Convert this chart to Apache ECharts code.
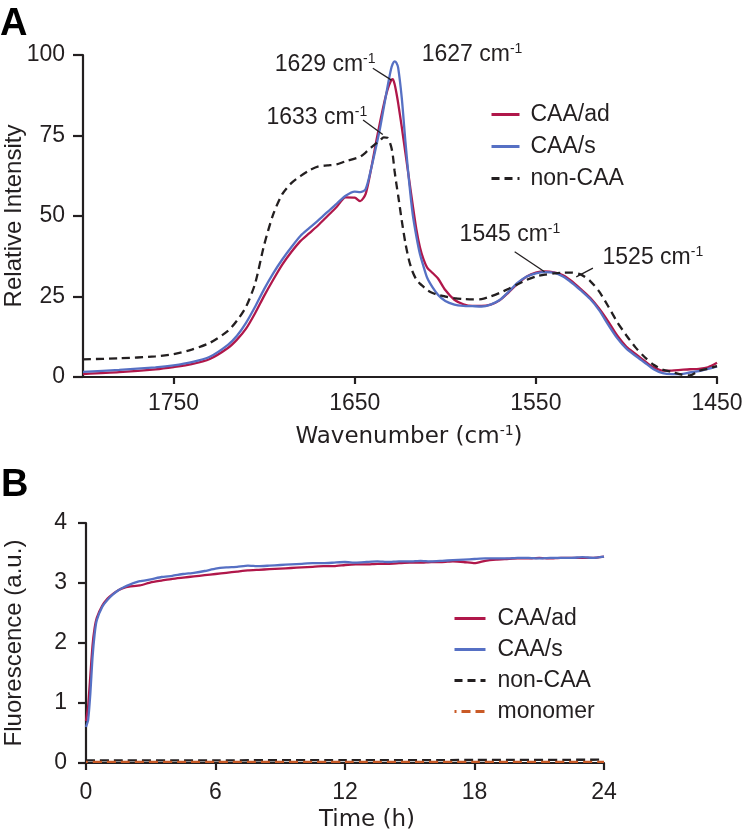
<!DOCTYPE html>
<html>
<head>
<meta charset="utf-8">
<script src="https://cdn.jsdelivr.net/npm/echarts@6/dist/echarts.min.js"></script>
<style>html,body{margin:0;padding:0;background:#fff}#c{width:744px;height:840px}</style>
</head>
<body>
<div id="c"></div>
<script>
// ---------- Panel A data (FTIR spectra) ----------
const wavenumber = [1800,1780,1760,1750,1740,1730,1720,1715,1710,1705,1700,1695,1690,1685,1680,1675,1670,1665,1660,1655,1650,1647,1644,1641,1638,1636,1634,1632,1630,1629,1628,1627,1626,1624,1622,1620,1618,1616,1614,1612,1610,1607,1604,1600,1595,1590,1585,1580,1575,1570,1565,1560,1555,1550,1545,1540,1535,1530,1525,1520,1515,1510,1505,1500,1495,1490,1485,1480,1475,1470,1465,1460,1455,1450];
const intensityCAAad = [0.9,1.5,2.4,3.1,4.0,5.6,9.0,11.6,15.0,19.8,25.2,30.2,34.9,38.8,42.2,44.7,47.2,50.0,52.8,55.8,55.7,54.6,56.8,64.5,73.5,79.2,84.5,89.0,92.0,92.5,91.0,88.3,85.0,77.5,69.5,61.5,53.5,46.0,40.3,36.5,34.0,32.3,30.6,27.0,24.0,22.6,22.1,22.1,22.5,23.8,26.3,29.0,31.2,32.4,32.8,32.5,31.6,29.7,27.2,24.6,21.2,17.2,12.8,9.4,7.2,5.0,3.0,2.0,2.0,2.2,2.4,2.5,3.0,4.4];
const intensityCAAs = [1.6,2.2,3.0,3.6,4.6,6.3,10.0,12.8,16.8,21.8,27.3,32.2,36.5,40.3,43.8,46.3,48.7,51.3,53.8,56.3,57.6,57.4,58.3,64.5,72.0,77.3,83.5,89.8,95.5,97.3,98.0,97.6,96.0,86.5,73.0,60.8,50.6,43.8,38.2,34.3,30.8,27.8,25.5,23.6,22.5,22.1,22.0,21.9,22.5,23.9,26.5,29.3,31.2,32.2,32.6,32.4,31.2,29.2,26.8,24.2,20.7,16.2,12.0,8.8,6.6,4.5,2.4,1.2,0.9,0.9,1.4,1.8,2.5,3.3];
const intensityNonCAA = [5.5,5.8,6.4,7.1,8.5,10.6,14.3,17.5,21.8,29.0,41.0,50.5,56.8,60.2,62.4,64.2,65.4,65.7,66.0,67.0,67.8,68.4,69.7,71.2,72.6,73.5,74.4,74.3,71.8,69.0,64.0,60.0,56.3,48.5,41.5,36.2,32.6,30.3,29.0,28.0,27.0,26.1,25.5,25.0,24.5,24.2,24.1,24.2,25.0,26.1,27.4,28.8,30.2,31.2,31.8,32.2,32.4,32.4,31.8,29.8,26.5,21.9,17.0,12.9,9.2,6.2,3.8,2.3,1.6,0.8,0.5,1.9,2.6,3.4];
const wavenumberTicks = [1750,1650,1550,1450];
const peakNames = ['1629','1627','1633','1545','1525'];

// ---------- Panel B data (fluorescence kinetics) ----------
const timeH = [0,0.1,0.2,0.3,0.4,0.5,0.75,1,1.25,1.5,1.75,2,2.5,3,3.5,4,4.5,5,5.5,6,6.5,7,7.5,8,8.5,9,9.5,10,10.5,11,11.5,12,12.5,13,13.5,14,14.5,15,15.5,16,16.5,17,17.5,18,18.5,19,19.5,20,20.5,21,21.5,22,22.5,23,23.5,24];
const fluorCAAad = [0.70,0.95,1.45,1.95,2.25,2.42,2.62,2.74,2.82,2.88,2.92,2.94,2.96,3.01,3.04,3.07,3.09,3.11,3.13,3.15,3.17,3.19,3.21,3.22,3.23,3.24,3.25,3.26,3.27,3.28,3.28,3.30,3.31,3.31,3.32,3.32,3.33,3.34,3.34,3.35,3.35,3.36,3.35,3.33,3.37,3.39,3.40,3.41,3.41,3.42,3.41,3.42,3.42,3.42,3.42,3.44];
const fluorCAAs = [0.60,0.72,1.15,1.75,2.15,2.38,2.60,2.72,2.81,2.88,2.93,2.97,3.03,3.06,3.10,3.12,3.15,3.17,3.20,3.24,3.26,3.27,3.29,3.28,3.29,3.30,3.31,3.32,3.33,3.33,3.34,3.35,3.34,3.35,3.36,3.35,3.36,3.36,3.37,3.36,3.37,3.38,3.39,3.40,3.41,3.41,3.41,3.42,3.42,3.41,3.42,3.42,3.42,3.43,3.42,3.44];
const timeFlat = [0,6,12,18,24];
const fluorNonCAA = [0.045,0.045,0.048,0.05,0.055];
const fluorMonomer = [0.02,0.02,0.02,0.02,0.02];

// ---------- styling ----------
const RED = '#b0174a', BLUE = '#5670c4', BLACK = '#231f20', ORANGE = '#c95a26';
const FONT = 'Liberation Sans, Arial, sans-serif';
const WIDE = 'DejaVu Sans, Liberation Sans, sans-serif';
const FS = 23;
const LW = 2.3;
const zip = (xs, ys) => xs.map((x, i) => [x, ys[i]]);
const plain = v => String(v);

// annotation anchors (data coordinates of the spectrum axes)
const peakNotes = [
  { text: peakNames[0], at: [1694.1, 96.9], from: [1640.0, 95.9], to: [1629.7, 92.2] },
  { text: peakNames[1], at: [1613.0, 100.0], from: [1627.0, 97.6], to: [1617.8, 100.5] },
  { text: peakNames[2], at: [1698.7, 80.4], from: [1645.4, 79.8], to: [1634.5, 75.3] },
  { text: peakNames[3], at: [1592.1, 44.1], from: [1561.7, 38.9], to: [1545.2, 32.7] },
  { text: peakNames[4], at: [1513.2, 37.0], from: [1518.5, 33.8], to: [1527.7, 31.1] }
];

const supRich = {
  a: { fontSize: FS, color: BLACK, fontFamily: FONT, lineHeight: 26 },
  s: { fontSize: 14, color: BLACK, fontFamily: FONT, lineHeight: 14, verticalAlign: 'top' }
};
const supRichWide = {
  a: { fontSize: FS, color: BLACK, fontFamily: WIDE, lineHeight: 26 },
  s: { fontSize: 14, color: BLACK, fontFamily: WIDE, lineHeight: 14, verticalAlign: 'top' }
};

function axisCommon() {
  return {
    nameMoveOverlap: false,
    axisLine: { show: true, lineStyle: { color: BLACK, width: 2.2 } },
    axisTick: { show: true, lineStyle: { color: BLACK, width: 2.2 } },
    axisLabel: { color: BLACK, fontSize: FS, fontFamily: FONT, formatter: plain },
    splitLine: { show: false },
    nameTextStyle: { color: BLACK, fontSize: 24, fontFamily: FONT }
  };
}

const chart = echarts.init(document.getElementById('c'), null, { renderer: 'canvas' });

const xA = Object.assign(axisCommon(), {
  type: 'value', gridIndex: 0, min: 1450, max: 1800, inverse: true,
  name: '{a|Wavenumber (cm}{s|-1}{a|)}', nameLocation: 'middle', nameGap: 47
});
xA.axisTick = { show: true, length: 7, customValues: wavenumberTicks, lineStyle: { color: BLACK, width: 2.2 } };
xA.axisLabel = { color: BLACK, fontSize: FS, fontFamily: FONT, margin: 15, customValues: wavenumberTicks, formatter: plain };
xA.nameTextStyle = { rich: supRichWide, padding: [0, 0, 0, 18] };

const yA = Object.assign(axisCommon(), {
  type: 'value', gridIndex: 0, min: 0, max: 100, interval: 25,
  name: 'Relative Intensity', nameLocation: 'middle', nameGap: 57
});
yA.axisTick.length = 10;
yA.axisLabel.margin = 18;

const xB = Object.assign(axisCommon(), {
  type: 'value', gridIndex: 1, min: 0, max: 24, interval: 6,
  name: 'Time (h)', nameLocation: 'middle', nameGap: 46
});
xB.axisTick.length = 7;
xB.axisLabel.margin = 18;
xB.nameTextStyle = { color: BLACK, fontSize: FS, fontFamily: WIDE, padding: [0, 0, 0, 44] };

const yB = Object.assign(axisCommon(), {
  type: 'value', gridIndex: 1, min: 0, max: 4, interval: 1,
  name: 'Fluorescence (a.u.)', nameLocation: 'middle', nameGap: 60
});
yB.axisTick.length = 8;
yB.axisLabel.margin = 19;

function lineSeries(name, xi, data, color, dash, extra) {
  return Object.assign({
    type: 'line', name: name, xAxisIndex: xi, yAxisIndex: xi, data: data,
    symbol: 'none', smooth: 0.25, clip: false, animation: false,
    lineStyle: { color: color, width: LW, type: dash || 'solid' },
    itemStyle: { color: color }
  }, extra || {});
}

const legendCommon = {
  orient: 'vertical', padding: 0, itemHeight: 12, selectedMode: false,
  itemStyle: { opacity: 0, borderWidth: 0 },
  lineStyle: { width: 3 }
};

const option = {
  backgroundColor: '#fff',
  animation: false,
  grid: [
    { left: 83, right: 27, top: 55, bottom: 463, containLabel: false, outerBoundsMode: 'none' },
    { left: 86, right: 140, top: 523, bottom: 77, containLabel: false, outerBoundsMode: 'none' }
  ],
  xAxis: [xA, xB],
  yAxis: [yA, yB],
  legend: [
    Object.assign({}, legendCommon, {
      left: 490, top: 103, itemWidth: 28, itemGap: 9,
      data: ['CAA/ad', 'CAA/s', 'non-CAA'],
      textStyle: { color: BLACK, fontSize: FS, fontFamily: FONT, padding: [0, 0, 0, 6] }
    }),
    Object.assign({}, legendCommon, {
      left: 453, top: 607, itemWidth: 31, itemGap: 8,
      data: ['CAA/ad', 'CAA/s', 'non-CAA', 'monomer'],
      textStyle: { color: BLACK, fontSize: FS, fontFamily: FONT, padding: [0, 0, 0, 7] }
    })
  ],
  graphic: [
    { type: 'text', left: 0, top: 6, style: { text: 'A', font: 'bold 38px ' + FONT, fill: '#000' } },
    { type: 'text', left: 1, top: 467, style: { text: 'B', font: 'bold 38px ' + FONT, fill: '#000' } }
  ],
  series: [
    lineSeries('CAA/ad', 0, zip(wavenumber, intensityCAAad), RED),
    lineSeries('CAA/s', 0, zip(wavenumber, intensityCAAs), BLUE),
    lineSeries('non-CAA', 0, zip(wavenumber, intensityNonCAA), BLACK, [8, 5], {
      markLine: {
        silent: true, symbol: ['none', 'none'], animation: false,
        label: { show: false },
        lineStyle: { color: BLACK, width: 1.3, type: 'solid' },
        emphasis: { disabled: true },
        data: peakNotes.map(n => [{ coord: n.from }, { coord: n.to }])
      },
      markPoint: {
        silent: true, symbol: 'circle', symbolSize: 0, animation: false,
        itemStyle: { color: 'transparent' },
        label: {
          show: true, position: [0, 0], align: 'left', verticalAlign: 'middle',
          rich: supRich
        },
        data: peakNotes.map(n => ({
          coord: n.at,
          label: { formatter: '{a|' + n.text + ' cm}{s|-1}' }
        }))
      }
    }),
    lineSeries('CAA/ad', 1, zip(timeH, fluorCAAad), RED, null, { smooth: 0.15 }),
    lineSeries('CAA/s', 1, zip(timeH, fluorCAAs), BLUE, null, { smooth: 0.15 }),
    lineSeries('non-CAA', 1, zip(timeFlat, fluorNonCAA), BLACK, [9, 5]),
    lineSeries('monomer', 1, zip(timeFlat, fluorMonomer), ORANGE, [9, 5], { lineStyle: { color: ORANGE, width: LW, type: [9, 5], dashOffset: 7 } })
  ]
};
chart.setOption(option);
</script>
</body>
</html>
